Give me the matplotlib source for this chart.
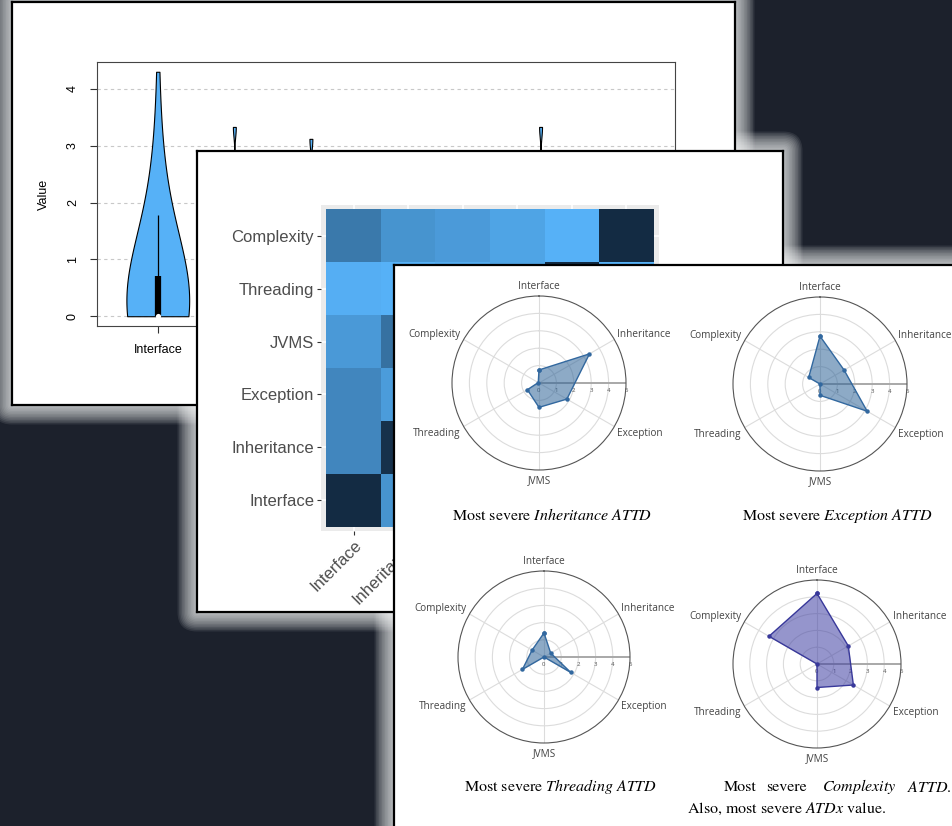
import numpy as np
import matplotlib.pyplot as plt
from matplotlib.patches import FancyBboxPatch
from matplotlib.colors import LinearSegmentedColormap

plt.rcParams['mathtext.fontset'] = 'stix'

W, H = 953, 826
BG = '#1C212C'

# ---- panel 1: violin data ----
violin_names = ["Interface", "Inheritance", "Exception", "JVMS", "Threading", "Complexity", "ATDx"]
interface_vals = [0, 0, 0, 0, 0, 0, 0, 0, 0, 0, 0, 0, 0, 0, 0, 0,
                  0, 0, 0, 0, 0, 0, 0, 0, 0, 0, 0, 0, 0, 0, 0, 0,
                  0.02, 0.05, 0.1, 0.15, 0.2, 0.25, 0.3, 0.35,
                  0.4, 0.45, 0.5, 0.55, 0.6, 0.65, 0.7, 0.72,
                  0.8, 0.9, 1.0, 1.1, 1.2, 1.35, 1.5, 1.65,
                  1.8, 2.0, 2.2, 2.45, 2.7, 3.1, 4.3]
inheritance_vals = [0, 0, 0, 0, 0, 0, 0, 0, 0, 0, 0, 0, 0, 0, 0, 0, 0, 0, 0, 0,
                    0.1, 0.2, 0.3, 0.5, 0.8, 1.2, 3.33]
exception_vals = [0, 0, 0, 0, 0, 0, 0, 0, 0, 0, 0, 0, 0, 0, 0, 0, 0, 0, 0, 0,
                  0.1, 0.2, 0.4, 0.6, 0.9, 1.4, 3.12]
jvms_vals = [0, 0, 0, 0, 0, 0, 0, 0, 0, 0, 0, 0, 0, 0, 0.1, 0.2, 0.4, 0.7, 1.1, 2.5]
threading_vals = [0, 0, 0, 0, 0, 0, 0, 0, 0, 0, 0, 0, 0.1, 0.3, 0.5, 0.9, 2.0]
complexity_vals = [0, 0, 0, 0, 0, 0, 0, 0, 0, 0, 0, 0, 0, 0, 0, 0, 0, 0, 0, 0,
                   0.1, 0.2, 0.4, 0.7, 1.0, 1.5, 3.33]
atdx_vals = [0, 0, 0, 0, 0, 0, 0, 0, 0, 0, 0, 0, 0.2, 0.4, 0.6, 0.9, 1.3, 2.6]
violin_data = [interface_vals, inheritance_vals, exception_vals, jvms_vals,
               threading_vals, complexity_vals, atdx_vals]

# ---- panel 2: heatmap data (rows bottom->top, cols left->right) ----
hm_names = ["Interface", "Inheritance", "Exception", "JVMS", "Threading", "Complexity"]
hm_values = [
    [0.00, 0.78, 0.68, 0.82, 0.98, 0.58],
    [0.68, 0.05, 0.84, 0.52, 1.00, 0.78],
    [0.68, 0.84, 0.00, 0.80, 0.95, 0.83],
    [0.82, 0.52, 0.80, 0.00, 0.90, 0.90],
    [0.98, 1.00, 0.95, 0.90, 0.00, 1.00],
    [0.58, 0.78, 0.83, 0.90, 1.00, 0.00],
]

# ---- panel 3: radar data ----
radar_names = ["Interface", "Inheritance", "Exception", "JVMS", "Threading", "Complexity"]
r_inheritance = [0.75, 3.35, 1.85, 1.4, 0.77, 0.05]
r_exception = [2.75, 1.6, 3.13, 0.65, 0.0, 0.75]
r_threading = [1.4, 0.45, 1.8, 0.0, 1.45, 0.8]
r_complexity = [4.2, 2.15, 2.5, 1.4, 0.0, 3.3]


def rect(x0, y0, x1, y1):
    return [x0 / W, 1 - y1 / H, (x1 - x0) / W, (y1 - y0) / H]


fig = plt.figure(figsize=(W / 100, H / 100), dpi=100, facecolor=BG)


def panel(x0, y0, x1, y1, z):
    # soft light glow round the card, kept under every card so it only shows on the dark backdrop
    for i in range(13, 0, -1):
        d = 1.5 * i
        p = FancyBboxPatch(((x0 - d) / 100, (H - y1 - d) / 100),
                           (x1 - x0 + 2 * d) / 100, (y1 - y0 + 2 * d) / 100,
                           boxstyle="round,pad=0,rounding_size=%f" % (d / 100),
                           transform=fig.dpi_scale_trans, facecolor='white',
                           edgecolor='none', alpha=0.085, zorder=1)
        fig.add_artist(p)
    ax = fig.add_axes(rect(x0, y0, x1, y1), zorder=z)
    ax.set_facecolor('white')
    ax.set_xticks([])
    ax.set_yticks([])
    for s in ax.spines.values():
        s.set_color('black')
        s.set_linewidth(1.6)
    return ax


# ================= panel 1 : violins =================
panel(12, 2, 735, 405, 10)
ax1 = fig.add_axes(rect(97, 62, 675, 326), zorder=11)
pos = np.arange(1, 8)
# the first group is smoothed strongly, the rest are narrow spikes
parts = ax1.violinplot(violin_data[:1], positions=pos[:1], widths=0.82,
                       showextrema=False, bw_method=1.25)
parts2 = ax1.violinplot(violin_data[1:], positions=pos[1:], widths=0.82,
                        showextrema=False, bw_method=0.25)
for b in parts['bodies'] + parts2['bodies']:
    b.set_facecolor('#56B1F7')
    b.set_edgecolor('black')
    b.set_linewidth(0.8)
    b.set_alpha(1)
    b.set_zorder(3)
for p, vals in zip(pos, violin_data):
    q1, med, q3 = np.percentile(vals, [25, 50, 75])
    iqr = q3 - q1
    hi = min(max(vals), q3 + 1.5 * iqr)
    lo = max(min(vals), q1 - 1.5 * iqr)
    ax1.vlines(p, lo, hi, color='black', lw=0.9, zorder=4)
    ax1.vlines(p, q1, q3, color='black', lw=4.5, zorder=5)
    ax1.scatter([p], [med], s=14, color='white', zorder=6, linewidths=0)
ax1.set_xlim(0.206, 7.756)
ax1.set_ylim(-0.172, 4.472)
ax1.set_yticks(range(5))
ax1.set_xticks(pos)
# only the first label is left uncovered by the cards above
ax1.set_xticklabels([violin_names[0]] + [''] * 6)
ax1.yaxis.grid(True, ls=(0, (3, 3)), color='#c8c8c8', lw=0.8)
ax1.set_axisbelow(True)
for lab in ax1.get_yticklabels():
    lab.set_rotation(90)
    lab.set_va('center')
ax1.tick_params(labelsize=9, length=5, width=0.8, color='#333', pad=8)
for lab in ax1.get_xticklabels() + ax1.get_yticklabels():
    lab.set_family('Liberation Sans')
ax1.set_ylabel('Value', fontsize=9, family='Liberation Sans', labelpad=12)
for s in ax1.spines.values():
    s.set_color('#444')
    s.set_linewidth(0.8)

# ================= panel 2 : heatmap =================
panel(197, 151, 783, 612, 20)
ax2 = fig.add_axes(rect(321, 205, 659, 531), zorder=21)
ax2.set_facecolor('#EBEBEB')
gg = LinearSegmentedColormap.from_list('gg', ['#132B43', '#56B1F7'])
edges = np.arange(7) - 0.5
ax2.pcolormesh(edges, edges, np.array(hm_values), cmap=gg, vmin=0, vmax=1, zorder=2)
ax2.set_xlim(-0.6, 5.6)
ax2.set_ylim(-0.585, 5.585)
ax2.set_xticks(range(6))
ax2.set_yticks(range(6))
ax2.set_xticklabels(hm_names, rotation=45, ha='right', rotation_mode='anchor')
ax2.set_yticklabels(hm_names)
ax2.grid(color='white', lw=1.1, zorder=1)
ax2.set_axisbelow(True)
ax2.tick_params(labelsize=12, labelcolor='#4D4D4D', length=3, width=0.8,
                color='#333', pad=2)
for lab in ax2.get_xticklabels() + ax2.get_yticklabels():
    lab.set_family('Liberation Sans')
for s in ax2.spines.values():
    s.set_visible(False)

# ================= panel 3 : radars =================
panel(394, 265, 965, 840, 30)
theta = np.linspace(0, 2 * np.pi, len(radar_names), endpoint=False)
label_style = [('center', 'bottom', 0, 4), ('left', 'bottom', 3, 0),
               ('left', 'top', 3, -1), ('center', 'top', 0, -5),
               ('right', 'top', -3, -1), ('right', 'bottom', -3, 0)]


def radar(cx, cy, R, vals, line_c, fill_c):
    ax = fig.add_axes(rect(cx - R, cy - R, cx + R, cy + R), projection='polar', zorder=31)
    ax.set_facecolor('none')
    ax.set_theta_offset(np.pi / 2)
    ax.set_theta_direction(-1)
    ax.set_ylim(0, 5)
    ax.set_yticks([1, 2, 3, 4])
    ax.set_yticklabels([])
    ax.set_xticks(theta)
    ax.set_xticklabels([])
    ax.grid(color='#dcdcdc', lw=0.8)
    ax.spines['polar'].set_color('#555')
    ax.spines['polar'].set_linewidth(0.8)
    ax.plot([np.pi / 2, np.pi / 2], [0, 5], color='#a8a8a8', lw=1.4, zorder=2)
    for r in range(6):
        ax.annotate(str(r), (np.pi / 2, r), xytext=(0, -5), textcoords='offset pixels',
                    ha='center', va='top', fontsize=4.4, color='#555',
                    family='Open Sans', annotation_clip=False)
    for t, name, (ha, va, dx, dy) in zip(theta, radar_names, label_style):
        ax.annotate(name, (t, 5), xytext=(dx, dy), textcoords='offset pixels',
                    ha=ha, va=va, fontsize=7.2, color='#444', family='Open Sans',
                    annotation_clip=False)
    th = np.append(theta, theta[0])
    rr = np.append(vals, vals[0])
    ax.fill(th, rr, color=fill_c, alpha=0.55, lw=0, zorder=3)
    ax.plot(th, rr, color=line_c, lw=1.0, marker='o', ms=2.2, zorder=4)
    return ax


radar(539, 383, 87, r_inheritance, '#32689F', '#2F6498')
radar(820, 384, 87, r_exception, '#32689F', '#2F6498')
radar(544, 657, 86, r_threading, '#32689F', '#2F6498')
radar(817, 664, 84, r_complexity, '#38389A', '#3F3FA2')

cap = dict(fontsize=11.5, family='STIXGeneral', color='black', zorder=40, va='center')
fig.text(552 / W, 1 - 515 / H, r"Most severe $\mathit{Inheritance\ ATTD}$", ha='center', **cap)
fig.text(837 / W, 1 - 516 / H, r"Most severe $\mathit{Exception\ ATTD}$", ha='center', **cap)
fig.text(561 / W, 1 - 786 / H, r"Most severe $\mathit{Threading\ ATTD}$", ha='center', **cap)
for x, word in [(724, "Most"), (766, "severe"), (822, r"$\mathit{Complexity}$"),
                (907, r"$\mathit{ATTD}$.")]:
    fig.text(x / W, 1 - 787 / H, word, ha='left', **cap)
fig.text(687 / W, 1 - 809 / H, r"Also, most severe $\mathit{ATDx}$ value.", ha='left', **cap)

fig.savefig('out.png', dpi=100, facecolor=BG)
